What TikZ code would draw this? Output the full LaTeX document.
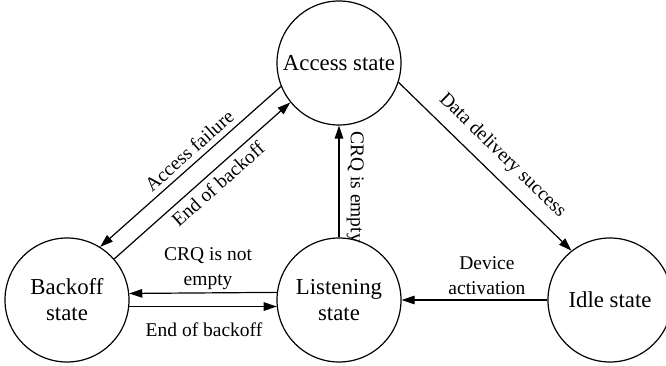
\documentclass[tikz,border=0pt]{standalone}
\usepackage{fontspec}
\setmainfont{Liberation Serif}
\usetikzlibrary{arrows.meta}
\begin{document}
\begin{tikzpicture}[x=1pt,y=-1pt,
  state/.style={circle, draw, line width=1.2pt, minimum size=124pt, inner sep=0pt,
                align=center, font=\fontsize{22.8}{26}\selectfont},
  trans/.style={line width=1.2pt, -{Triangle[length=13pt,width=8.5pt]}},
  transrev/.style={line width=1.2pt, {Triangle[length=13pt,width=8.5pt]}-},
  lab/.style={font=\fontsize{19.5}{25}\selectfont, align=center}
]
\useasboundingbox (0,0) rectangle (666,366);
\clip (0,0) rectangle (666,366);

% states
\node[state] (acc)  at (339,63)  {Access state};
\node[state] (bo)   at (67,300)  {Backoff\\state};
\node[state] (lis)  at (339,300) {Listening\\state};
\node[state] (idle) at (610,300) {Idle state};

% transitions between backoff and access
\draw[transrev] (bo.58) -- node[lab, sloped, above=2pt, pos=0.54] (lfail) {Access failure} (acc.202.6);
\draw[trans] (bo.41) -- node[lab, sloped, below=2pt, pos=0.54] (lend1) {End of backoff} (acc.219);

% access to idle
\draw[trans] (acc.-18) -- node[lab, sloped, above=7pt, pos=0.52] (ldata) {Data delivery success} (idle.128);

% listening to access
\draw[transrev] (acc.270) -- node[lab, pos=0.55, rotate=-90, anchor=south, inner sep=7pt] (lempty) {CRQ is empty} (lis.90);

% listening and backoff
\draw[trans] (lis.173.5) -- node[lab, above=-1pt, pos=0.466] (lnot) {CRQ is not\\empty} (bo.6.5);
\draw[trans] (bo.-6.5) -- node[lab, below=12pt, pos=0.507] (lend2) {End of backoff} (lis.186.5);

% idle to listening
\draw[trans] (idle.180) -- node[lab, above=1pt, pos=0.415] (ldev) {Device\\activation} (lis.0);
\end{tikzpicture}
\end{document}
